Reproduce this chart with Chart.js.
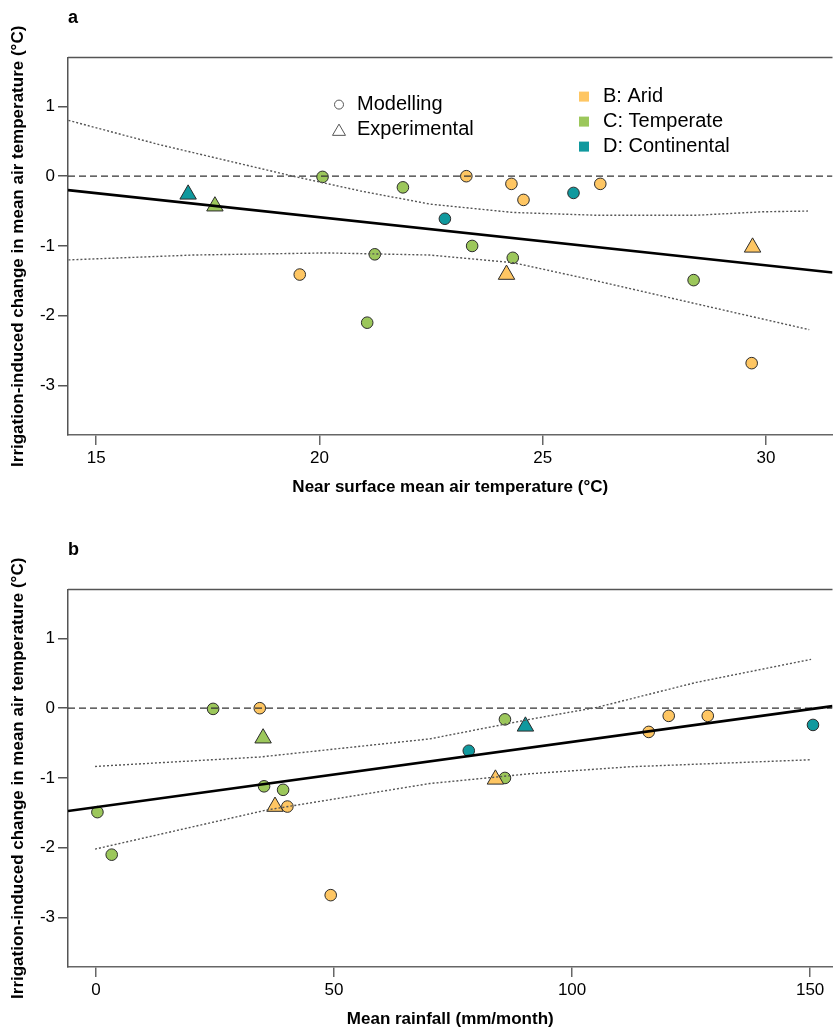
<!DOCTYPE html>
<html>
<head>
<meta charset="utf-8">
<script src="https://cdn.jsdelivr.net/npm/chart.js@4.4.1/dist/chart.umd.min.js"></script>
<style>
  body { margin: 0; background: #fff; overflow: hidden; }
  .panel { position: absolute; left: 0; width: 833px; height: 500px; overflow: hidden; }
</style>
</head>
<body>
<div class="panel" style="top:0"><canvas id="chart_a" width="843" height="500"></canvas></div>
<div class="panel" style="top:532px"><canvas id="chart_b" width="843" height="500"></canvas></div>
<script>
const FONT = "'Liberation Sans', Arial, sans-serif";

const climates = ["B: Arid", "C: Temperate", "D: Continental"];
const climateColors = ["#fec663", "#9cc75b", "#10999e"];
const methods = ["Modelling", "Experimental"];

// irrigation-induced change (°C), with temperature (°C) and rainfall (mm/month) of each site
const aridModChange = [0.00, -0.11, -0.11, -0.34, -1.41, -2.68];
const aridModTemp = [23.29, 24.30, 26.29, 24.57, 19.56, 29.68];
const aridModRain = [34.4, 120.3, 128.5, 116.1, 40.2, 49.3];

const aridExpChange = [-1.41, -1.02];
const aridExpTemp = [24.19, 29.70];
const aridExpRain = [37.6, 83.9];

const tempModChange = [-0.01, -0.16, -1.12, -1.00, -1.17, -2.10, -1.49];
const tempModTemp = [20.07, 21.87, 21.24, 23.42, 24.33, 21.07, 28.38];
const tempModRain = [24.6, 85.9, 35.3, 85.9, 39.3, 3.3, 0.3];

const tempExpChange = [-0.43];
const tempExpTemp = [17.66];
const tempExpRain = [35.1];

const contModChange = [-0.61, -0.24];
const contModTemp = [22.81, 25.69];
const contModRain = [78.3, 150.6];

const contExpChange = [-0.26];
const contExpTemp = [17.06];
const contExpRain = [90.2];

// fitted line and confidence bands, panel a
const tempFitX = [14.37, 31.49];
const tempFitY = [-0.20, -1.38];
const tempUpperX = [14.38, 16.43, 19.41, 20.91, 22.47, 24.34, 26.20, 28.44, 29.93, 30.94];
const tempUpperY = [0.80, 0.45, 0.00, -0.21, -0.40, -0.52, -0.56, -0.56, -0.51, -0.50];
const tempLowerX = [14.38, 17.18, 20.16, 22.47, 24.34, 26.20, 28.44, 30.97];
const tempLowerY = [-1.20, -1.13, -1.10, -1.13, -1.24, -1.50, -1.83, -2.20];

// fitted line and confidence bands, panel b
const rainFitX = [-5.88, 154.7];
const rainFitY = [-1.475, 0.03];
const rainUpperX = [-0.2, 34.4, 70.1, 91.1, 105.1, 126.1, 150.2];
const rainUpperY = [-0.835, -0.70, -0.44, -0.16, 0.01, 0.37, 0.70];
const rainLowerX = [-0.2, 35.8, 70.1, 91.1, 112.1, 149.9];
const rainLowerY = [-2.02, -1.46, -1.08, -0.94, -0.84, -0.74];

const yTicks = [-3, -2, -1, 0, 1];
const tempTicks = [15, 20, 25, 30];
const rainTicks = [0, 50, 100, 150];
const yRange = [-3.71, 1.70];
const tempRange = [14.37, 31.49];
const rainRange = [-5.88, 154.7];

function pts(xs, ys) {
    return xs.map((x, i) => ({ x: x, y: ys[i] }));
}

function markerSet(xs, ys, color, style) {
    return {
        data: pts(xs, ys),
        order: 2,
        pointStyle: style,
        pointRadius: style === "triangle" ? 9.5 : 5.8,
        backgroundColor: color,
        borderColor: "#2b2b2b",
        borderWidth: 1
    };
}

function lineSet(xs, ys, width, dash, color) {
    return {
        data: pts(xs, ys),
        order: 1,
        showLine: true,
        pointRadius: 0,
        borderColor: color,
        borderWidth: width,
        borderDash: dash,
        fill: false
    };
}

// the plot box has a top edge but no right edge
const frameTop = {
    id: "frameTop",
    afterDraw(chart) {
        const ctx = chart.ctx;
        const area = chart.chartArea;
        ctx.save();
        ctx.strokeStyle = "#555";
        ctx.lineWidth = 1.5;
        ctx.beginPath();
        ctx.moveTo(area.left, area.top);
        ctx.lineTo(area.right, area.top);
        ctx.stroke();
        ctx.restore();
    }
};

const markerLegend = {
    id: "markerLegend",
    afterDraw(chart, args, opts) {
        if (!opts.show) {
            return;
        }
        const ctx = chart.ctx;
        const area = chart.chartArea;
        ctx.save();
        ctx.font = "20px " + FONT;
        ctx.textBaseline = "middle";
        methods.forEach((m, i) => {
            const y = area.top + 47 + i * 25;
            ctx.fillStyle = "#fff";
            ctx.strokeStyle = "#555";
            Chart.helpers.drawPoint(ctx, {
                pointStyle: i === 0 ? "circle" : "triangle",
                radius: i === 0 ? 4.5 : 7.5,
                borderWidth: 1.2,
                rotation: 0
            }, area.left + 271, y + (i === 0 ? 0 : 2));
            ctx.fillStyle = "#000";
            ctx.fillText(m, area.left + 289, y);
        });
        climates.forEach((c, i) => {
            const y = area.top + 39 + i * 25;
            ctx.fillStyle = climateColors[i];
            ctx.fillRect(area.left + 511, y - 5, 10, 10);
            ctx.fillStyle = "#000";
            ctx.fillText(c, area.left + 535, y);
        });
        ctx.restore();
    }
};

function createPanel(id, letter, xTitle, xs, xRange, xTicks, fit, upper, lower, showLegend) {
    const datasets = [
        lineSet(fit[0], fit[1], 2.6, [], "#000"),
        lineSet(upper[0], upper[1], 1.4, [2, 2], "#555"),
        lineSet(lower[0], lower[1], 1.4, [2, 2], "#555"),
        lineSet(xRange, [0, 0], 1.3, [7, 4], "#333"),
        markerSet(xs[0], aridModChange, climateColors[0], "circle"),
        markerSet(xs[1], aridExpChange, climateColors[0], "triangle"),
        markerSet(xs[2], tempModChange, climateColors[1], "circle"),
        markerSet(xs[3], tempExpChange, climateColors[1], "triangle"),
        markerSet(xs[4], contModChange, climateColors[2], "circle"),
        markerSet(xs[5], contExpChange, climateColors[2], "triangle")
    ];

    const tickFont = { family: FONT, size: 17 };
    const titleFont = { family: FONT, size: 17, weight: "bold" };

    new Chart(id, {
        type: "scatter",
        data: { datasets: datasets },
        plugins: [frameTop, markerLegend],
        options: {
            responsive: false,
            animation: false,
            events: [],
            layout: { padding: 0 },
            plugins: {
                legend: { display: false },
                tooltip: { enabled: false },
                title: {
                    display: true,
                    text: letter,
                    align: "start",
                    fullSize: false,
                    color: "#000",
                    font: { family: FONT, size: 18, weight: "bold" },
                    padding: { top: 7, bottom: 29 }
                },
                markerLegend: { show: showLegend }
            },
            scales: {
                x: {
                    type: "linear",
                    min: xRange[0],
                    max: xRange[1],
                    afterBuildTicks: scale => { scale.ticks = xTicks.map(v => ({ value: v })); },
                    afterFit: scale => { scale.height = 65; },
                    border: { display: true, color: "#666", width: 1.5 },
                    grid: { drawOnChartArea: false, drawTicks: true, tickLength: 10, color: "#666", lineWidth: 1.5 },
                    ticks: { color: "#000", font: tickFont, padding: 3, maxRotation: 0 },
                    title: { display: true, text: xTitle, color: "#000", font: titleFont, padding: { top: 0, bottom: 2 } }
                },
                y: {
                    type: "linear",
                    min: yRange[0],
                    max: yRange[1],
                    afterBuildTicks: scale => { scale.ticks = yTicks.map(v => ({ value: v })); },
                    afterFit: scale => { scale.width = 68; },
                    border: { display: true, color: "#555", width: 1.5 },
                    grid: { drawOnChartArea: false, drawTicks: true, tickLength: 10, color: "#555", lineWidth: 1.5 },
                    ticks: { color: "#000", font: tickFont, padding: 3 },
                    title: {
                        display: true,
                        text: "Irrigation-induced change in mean air temperature (°C)",
                        color: "#000",
                        font: titleFont,
                        padding: { top: 8, bottom: 0 }
                    }
                }
            }
        }
    });
}

createPanel("chart_a", "a", "Near surface mean air temperature (°C)",
    [aridModTemp, aridExpTemp, tempModTemp, tempExpTemp, contModTemp, contExpTemp],
    tempRange, tempTicks, [tempFitX, tempFitY], [tempUpperX, tempUpperY], [tempLowerX, tempLowerY], true);

createPanel("chart_b", "b", "Mean rainfall (mm/month)",
    [aridModRain, aridExpRain, tempModRain, tempExpRain, contModRain, contExpRain],
    rainRange, rainTicks, [rainFitX, rainFitY], [rainUpperX, rainUpperY], [rainLowerX, rainLowerY], false);
</script>
</body>
</html>
